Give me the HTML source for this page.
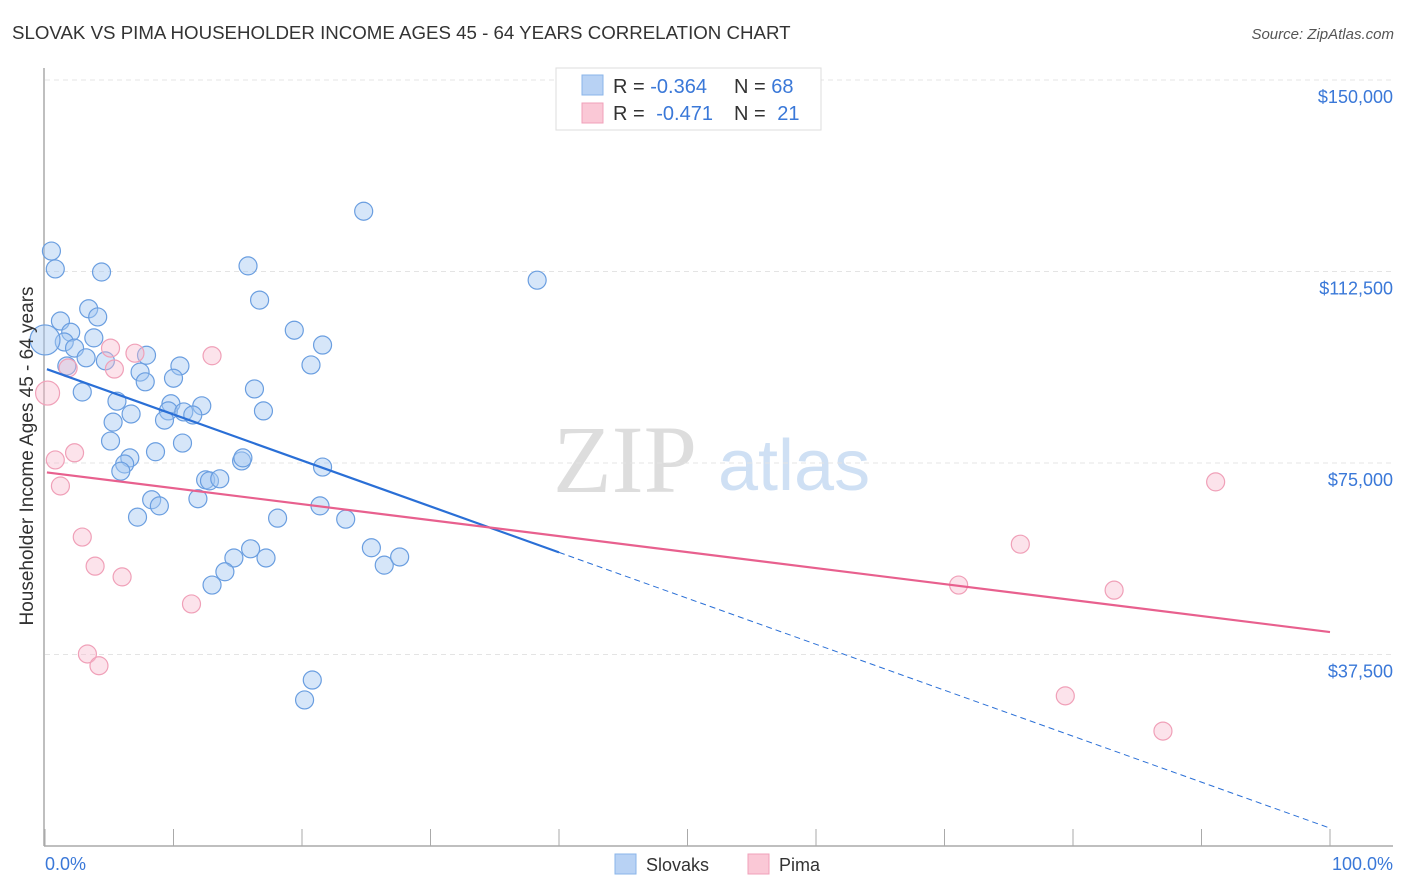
<!DOCTYPE html>
<html><head><meta charset="utf-8"><style>
body{margin:0;background:#fff;font-family:"Liberation Sans",sans-serif;}
svg{display:block}
</style></head><body>
<svg id="chart" width="1406" height="892">
<text x="12" y="39" font-size="18.7" fill="#333">SLOVAK VS PIMA HOUSEHOLDER INCOME AGES 45 - 64 YEARS CORRELATION CHART</text>
<text x="1394" y="39" font-size="15" fill="#555" font-style="italic" text-anchor="end">Source: ZipAtlas.com</text>
<g>
<text x="553" y="492" font-size="96" fill="#ddd" font-family="Liberation Serif,serif">ZIP</text>
<text x="718" y="490" font-size="72" fill="#cfe0f4">atlas</text>
</g>
<g id="grid"></g>
<g id="axes"></g>
<g id="marks"></g>
<g id="lines"></g>
<text transform="translate(33,456) rotate(-90)" font-size="19" fill="#333" text-anchor="middle">Householder Income Ages 45 - 64 years</text>
<text x="45" y="870" font-size="18" fill="#3a78d8">0.0%</text>
<text x="1393" y="870" font-size="18" fill="#3a78d8" text-anchor="end">100.0%</text>
<g>
<rect x="556" y="68" width="265" height="62" fill="#fff" stroke="#ddd"/>
<rect x="582" y="75" width="21" height="20" fill="#b8d2f4" stroke="#8ab4ea"/>
<rect x="582" y="103" width="21" height="20" fill="#fac8d6" stroke="#f0a0ba"/>
<text x="613" y="93" font-size="20" fill="#333">R = <tspan fill="#3a78d8">-0.364</tspan><tspan x="734">N = </tspan><tspan fill="#3a78d8">68</tspan></text>
<text x="613" y="120" font-size="20" fill="#333">R = <tspan fill="#3a78d8" dx="6">-0.471</tspan><tspan x="734">N = </tspan><tspan fill="#3a78d8" dx="6">21</tspan></text>
</g>
<g>
<rect x="615" y="854" width="21" height="20" fill="#b8d2f4" stroke="#8ab4ea"/>
<text x="646" y="871" font-size="18" fill="#333">Slovaks</text>
<rect x="748" y="854" width="21" height="20" fill="#fac8d6" stroke="#f0a0ba"/>
<text x="779" y="871" font-size="18" fill="#333">Pima</text>
</g>
</svg>
<script>
const yTicks=[37500,75000,112500,150000];
const yTickLabels=["$37,500","$75,000","$112,500","$150,000"];
const slovakX=[0.5,0.8,4.4,24.8,38.3,15.8,16.7,1.2,3.4,4.1,3.8,2.0,1.5,2.3,3.2,1.7,4.7,7.9,10.5,19.4,21.6,20.7,7.4,7.8,10.0,16.3,2.9,5.6,9.8,12.2,9.6,10.8,11.5,17.0,9.3,6.7,5.3,5.1,10.7,8.6,6.6,6.2,5.9,15.3,15.4,21.6,12.5,12.8,13.6,8.3,11.9,8.9,7.2,18.1,21.4,23.4,16.0,14.7,17.2,25.4,26.4,27.6,14.0,13.0,20.8,20.2,0.0];
const slovakY=[116.5,113.0,112.4,124.3,110.8,113.6,106.9,102.8,105.2,103.6,99.5,100.6,98.7,97.5,95.6,94.0,95.0,96.1,94.0,101.0,98.1,94.2,92.8,90.9,91.6,89.5,88.9,87.1,86.6,86.2,85.2,85.0,84.4,85.2,83.4,84.6,83.0,79.3,78.9,77.2,76.0,74.8,73.4,75.4,76.0,74.2,71.7,71.5,71.9,67.8,68.0,66.6,64.4,64.2,66.6,64.0,58.2,56.4,56.4,58.4,55.0,56.6,53.7,51.1,32.5,28.6,99.1];
const pimaX=[0.2,0.8,1.2,2.3,5.1,7.0,5.4,1.8,13.0,2.9,3.9,6.0,11.4,3.3,4.2,91.1,75.9,71.1,83.2,79.4,87.0];
const pimaY=[88.7,75.6,70.5,77.0,97.5,96.5,93.4,93.6,96.0,60.5,54.8,52.7,47.4,37.6,35.3,71.3,59.1,51.1,50.1,29.4,22.5];
const slovakTrend=[93.5,-0.90];
const pimaTrend=[73.2,-0.313];
const slovakSolidEnd=40;

const NS="http://www.w3.org/2000/svg";
const xs=p=>45+p*12.85;
const ys=v=>463-(v-75000)*191.5/37500;
function mk(tag,attrs,parent){const e=document.createElementNS(NS,tag);for(const k in attrs)e.setAttribute(k,attrs[k]);document.getElementById(parent).appendChild(e);return e;}

yTicks.forEach((t,i)=>{
  const g=mk('line',{x1:45,x2:1393,y1:ys(t),y2:ys(t),stroke:'#e4e4e4','stroke-dasharray':'5,4'},'grid');
  
  
  const l=mk('text',{x:1393,y:ys(t)+23,'font-size':18,fill:'#3a78d8','text-anchor':'end','font-family':'Liberation Sans,sans-serif'},'grid');
  l.textContent=yTickLabels[i];
  
  
});
const ax=mk('line',{x1:44,x2:44,y1:68,y2:846,stroke:'#aaa','stroke-width':1.5},'axes');


const bx=mk('line',{x1:44,x2:1393,y1:846,y2:846,stroke:'#aaa','stroke-width':1.5},'axes');


for(let i=0;i<=10;i++){
  const t=mk('line',{x1:xs(i*10),x2:xs(i*10),y1:829,y2:846,stroke:'#aaa'},'axes');
  
  
}
slovakX.forEach((x,i)=>{
  const big=i===slovakX.length-1;
  const c=mk('circle',{cx:xs(x),cy:ys(slovakY[i]*1000),r:big?15:9,fill:'rgba(165,200,242,0.45)',stroke:'#6a9ee0','stroke-width':1.2},'marks');
  
  
});
pimaX.forEach((x,i)=>{
  const c=mk('circle',{cx:xs(x),cy:ys(pimaY[i]*1000),r:i===0?12:9,fill:'rgba(248,185,205,0.4)',stroke:'#f0a0b8','stroke-width':1.2},'marks');
  
  
});
const tv=(tr,p)=>(tr[0]+tr[1]*p)*1000;
const s1=mk('line',{x1:xs(0.15),y1:ys(tv(slovakTrend,0.15)),x2:xs(slovakSolidEnd),y2:ys(tv(slovakTrend,slovakSolidEnd)),stroke:'#2a6fd6','stroke-width':2.2},'lines');


const s2=mk('line',{x1:xs(slovakSolidEnd),y1:ys(tv(slovakTrend,slovakSolidEnd)),x2:xs(100),y2:ys(tv(slovakTrend,100)),stroke:'#2a6fd6','stroke-width':1,'stroke-dasharray':'6,4'},'lines');


const p1=mk('line',{x1:xs(0.15),y1:ys(tv(pimaTrend,0.15)),x2:xs(100),y2:ys(tv(pimaTrend,100)),stroke:'#e8608e','stroke-width':2.2},'lines');


</script>
</body></html>
